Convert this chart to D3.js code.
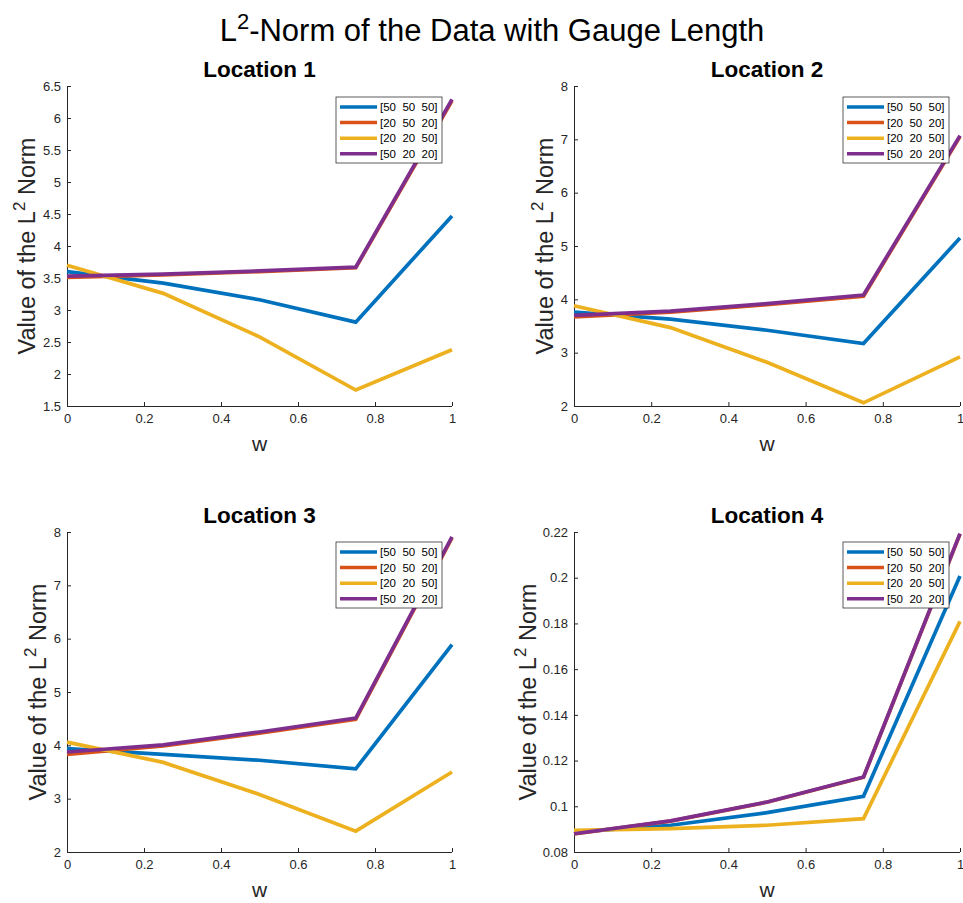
<!DOCTYPE html>
<html><head><meta charset="utf-8">
<script src="https://cdn.jsdelivr.net/npm/d3@7"></script>
<style>body{margin:0;background:#fff;} svg{display:block;font-family:"Liberation Sans",Arial,sans-serif;}</style>
</head><body>
<svg id="c" width="963" height="903"></svg>
<script>
const wValues = [0, 0.25, 0.5, 0.75, 1];
const seriesNames = ["[50  50  50]", "[20  50  20]", "[20  20  50]", "[50  20  20]"];
const seriesColors = ["#0072BD", "#D95319", "#EDB120", "#7E2F8E"];
const locationTitles = ["Location 1", "Location 2", "Location 3", "Location 4"];
const xTicks = [0, 0.2, 0.4, 0.6, 0.8, 1];

// values per location, per series (order as seriesNames)
const loc1 = [
  [3.60, 3.42, 3.16, 2.81, 4.47],
  [3.51, 3.55, 3.60, 3.66, 6.27],
  [3.70, 3.26, 2.58, 1.75, 2.38],
  [3.53, 3.56, 3.61, 3.67, 6.29]
];
const loc2 = [
  [3.76, 3.63, 3.42, 3.17, 5.15],
  [3.67, 3.76, 3.90, 4.06, 7.05],
  [3.88, 3.47, 2.82, 2.06, 2.92],
  [3.70, 3.78, 3.92, 4.08, 7.07]
];
const loc3 = [
  [3.94, 3.83, 3.72, 3.56, 5.89],
  [3.83, 3.99, 4.23, 4.49, 7.89],
  [4.06, 3.68, 3.08, 2.39, 3.50],
  [3.875, 4.01, 4.25, 4.51, 7.91]
];
const loc4 = [
  [0.0887, 0.0917, 0.0972, 0.1044, 0.2007],
  [0.0879, 0.0935, 0.1018, 0.1127, 0.2191],
  [0.0895, 0.0902, 0.0917, 0.0946, 0.1809],
  [0.0880, 0.0936, 0.1019, 0.1128, 0.2193]
];
const yDomains = [[1.5, 6.5], [2, 8], [2, 8], [0.08, 0.22]];
const yTicks1 = [1.5, 2, 2.5, 3, 3.5, 4, 4.5, 5, 5.5, 6, 6.5];
const yTicks2 = [2, 3, 4, 5, 6, 7, 8];
const yTicks3 = [2, 3, 4, 5, 6, 7, 8];
const yTicks4 = [0.08, 0.1, 0.12, 0.14, 0.16, 0.18, 0.2, 0.22];

const allData = [loc1, loc2, loc3, loc4];
const allYTicks = [yTicks1, yTicks2, yTicks3, yTicks4];

const svg = d3.select("#c");
const axisColor = "#262626";

// main title
const mt = svg.append("text").attr("x", 492).attr("y", 41).attr("text-anchor", "middle")
  .attr("font-size", 31).attr("fill", "#000");
mt.append("tspan").text("L");
mt.append("tspan").attr("dy", -12).attr("font-size", 22).text("2");
mt.append("tspan").attr("dy", 12).text("-Norm of the Data with Gauge Length");

const panels = [
  {x0: 67, x1: 452, y0: 86, y1: 406, ylabX: 35, legX: 336, legY: 97},
  {x0: 574, x1: 960, y0: 86, y1: 406, ylabX: 553, legX: 843, legY: 97},
  {x0: 67, x1: 452, y0: 532, y1: 852, ylabX: 46, legX: 336, legY: 542},
  {x0: 574, x1: 960, y0: 532, y1: 852, ylabX: 536, legX: 843, legY: 542}
];

panels.forEach((p, i) => {
  const g = svg.append("g");
  const x = d3.scaleLinear().domain([0, 1]).range([p.x0, p.x1]);
  const y = d3.scaleLinear().domain(yDomains[i]).range([p.y1, p.y0]);

  const xa = g.append("g").attr("transform", `translate(0,${p.y1})`)
    .call(d3.axisBottom(x).tickValues(xTicks).tickSize(-4).tickPadding(8).tickFormat(d3.format("")));
  const ya = g.append("g").attr("transform", `translate(${p.x0},0)`)
    .call(d3.axisLeft(y).tickValues(allYTicks[i]).tickSize(-4).tickPadding(6).tickFormat(d3.format("")));
  [xa, ya].forEach(a => {
    a.select(".domain").attr("stroke", axisColor).attr("stroke-width", 1);
    a.selectAll(".tick line").attr("stroke", axisColor);
    a.selectAll(".tick text").attr("fill", axisColor).attr("font-size", 13)
      .attr("font-family", "'Liberation Sans',Arial,sans-serif");
  });
  ya.select(".domain").attr("d", `M0.5,${p.y1}V${p.y0}`);
  xa.select(".domain").attr("d", `M${p.x0},0.5H${p.x1}`);

  // title
  g.append("text").attr("x", (p.x0 + p.x1) / 2).attr("y", p.y0 - 9).attr("text-anchor", "middle")
    .attr("font-size", 22.5).attr("font-weight", "bold").attr("fill", "#000").text(locationTitles[i]);

  // x label
  g.append("text").attr("x", (p.x0 + p.x1) / 2).attr("y", p.y1 + 45).attr("text-anchor", "middle")
    .attr("font-size", 21).attr("fill", axisColor).text("w");

  // y label
  const yl = g.append("text").attr("transform", `translate(${p.ylabX},${(p.y0 + p.y1) / 2}) rotate(-90)`)
    .attr("text-anchor", "middle").attr("font-size", 23.5).attr("fill", axisColor);
  yl.append("tspan").text("Value of the L");
  yl.append("tspan").attr("dy", -10).attr("font-size", 17).text("2");
  yl.append("tspan").attr("dy", 10).text(" Norm");

  const line = d3.line().x((d, j) => x(wValues[j])).y(d => y(d));
  allData[i].forEach((s, k) => {
    g.append("path").attr("d", line(s)).attr("fill", "none")
      .attr("stroke", seriesColors[k]).attr("stroke-width", 3.7).attr("stroke-linejoin", "miter");
  });

  // legend
  const lg = g.append("g").attr("transform", `translate(${p.legX},${p.legY})`);
  lg.append("rect").attr("x", 0).attr("y", 0).attr("width", 106).attr("height", 66)
    .attr("fill", "#fff").attr("stroke", "#262626").attr("stroke-width", 0.75);
  seriesNames.forEach((n, k) => {
    const yy = 10 + k * 15.6;
    lg.append("line").attr("x1", 4).attr("x2", 41).attr("y1", yy).attr("y2", yy)
      .attr("stroke", seriesColors[k]).attr("stroke-width", 3.5);
    lg.append("text").attr("x", 44).attr("y", yy + 4).attr("font-size", 11.5).attr("fill", "#000")
      .attr("xml:space", "preserve").style("white-space", "pre").text(n);
  });
});
</script>
</body></html>
